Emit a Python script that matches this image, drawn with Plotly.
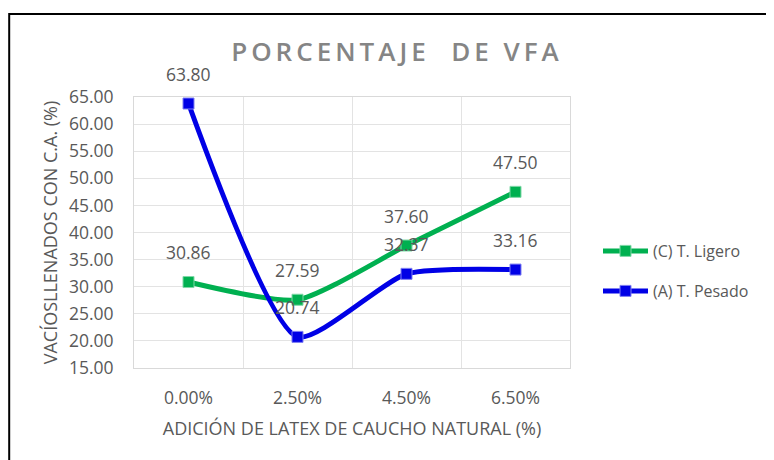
import plotly.graph_objects as go

categories = ["0.00%", "2.50%", "4.50%", "6.50%"]
ligero = [30.86, 27.59, 37.60, 47.50]
pesado = [63.80, 20.74, 32.37, 33.16]
series_names = ["(C) T. Ligero", "(A) T. Pesado"]
colors = ["#00B050", "#0000E6"]
marker_line = ["#7FD8A7", "#7F7FF2"]

# page body has an 8px margin: work in reference pixel coords and offset
OFF = 8
W, H = 774 - OFF, 460 - OFF
PL, PR, PT, PB = 134, 570, 97, 368  # plot area in reference pixels
L, R, T, B = PL - OFF, W - (PR - OFF), PT - OFF, H - (PB - OFF)
pw, ph = PR - PL, PB - PT

FONT = "Open Sans"
GREY = "#595959"

fig = go.Figure()
for name, vals, col, ml, leg in zip(series_names, [ligero, pesado], colors, marker_line, ["legend", "legend2"]):
    fig.add_trace(go.Scatter(
        x=categories, y=vals, name=name, mode="lines+markers",
        line=dict(color=col, width=5, shape="spline", smoothing=0.6),
        marker=dict(symbol="square", size=11, color=col, line=dict(color=ml, width=1)),
        legend=leg,
    ))
    for c, v in zip(categories, vals):
        fig.add_annotation(x=c, y=v, text=f"{v:.2f}", showarrow=False, yshift=30,
                           font=dict(family=FONT, size=17.5, color=GREY))

def px2x(p):
    return (p - PL) / pw

def py2y(p):
    return (PB - p) / ph

fig.add_shape(type="rect", xref="paper", yref="paper",
              x0=px2x(9.2), x1=px2x(800), y0=py2y(14), y1=py2y(490),
              line=dict(color="black", width=2), fillcolor="rgba(0,0,0,0)", layer="above")

fig.update_layout(
    width=W, height=H,
    margin=dict(l=L, r=R, t=T, b=B, autoexpand=False),
    paper_bgcolor="white", plot_bgcolor="white",
    title=dict(text='<span style="letter-spacing:4px">PORCENTAJE  DE VFA</span>',
               x=(397 - OFF) / W, xanchor="center", y=1 - (52 - OFF) / H, yanchor="middle",
               font=dict(family=FONT, size=26, color="#858585", weight=600)),
    font=dict(family=FONT, color=GREY),
    legend=dict(x=px2x(598), y=py2y(251), xanchor="left", yanchor="middle",
                font=dict(family=FONT, size=16, color=GREY), bgcolor="rgba(0,0,0,0)", itemwidth=45),
    legend2=dict(x=px2x(598), y=py2y(291), xanchor="left", yanchor="middle",
                 font=dict(family=FONT, size=16, color=GREY), bgcolor="rgba(0,0,0,0)", itemwidth=45),
    showlegend=True,
)
fig.update_xaxes(type="category", tickson="boundaries", showgrid=True, gridcolor="#E3E3E3",
                 showline=True, linecolor="#D9D9D9", mirror=True, ticks="",
                 range=[-0.5, 3.5], tickfont=dict(family=FONT, size=17.5, color=GREY),
                 ticklabelstandoff=14,
                 title=dict(text="ADICIÓN DE LATEX DE CAUCHO NATURAL (%)", standoff=14,
                            font=dict(family=FONT, size=18, color=GREY)))
fig.update_yaxes(range=[15, 65], tickvals=[15, 20, 25, 30, 35, 40, 45, 50, 55, 60, 65],
                 tickformat=".2f", showgrid=True, gridcolor="#E3E3E3", zeroline=False,
                 showline=True, linecolor="#D9D9D9", mirror=True, ticks="",
                 tickfont=dict(family=FONT, size=17.5, color=GREY), ticklabelstandoff=16,
                 title=dict(text="VACÍOSLLENADOS CON C.A. (%)", standoff=6,
                            font=dict(family=FONT, size=18, color=GREY)))

fig.write_html("out.html")
